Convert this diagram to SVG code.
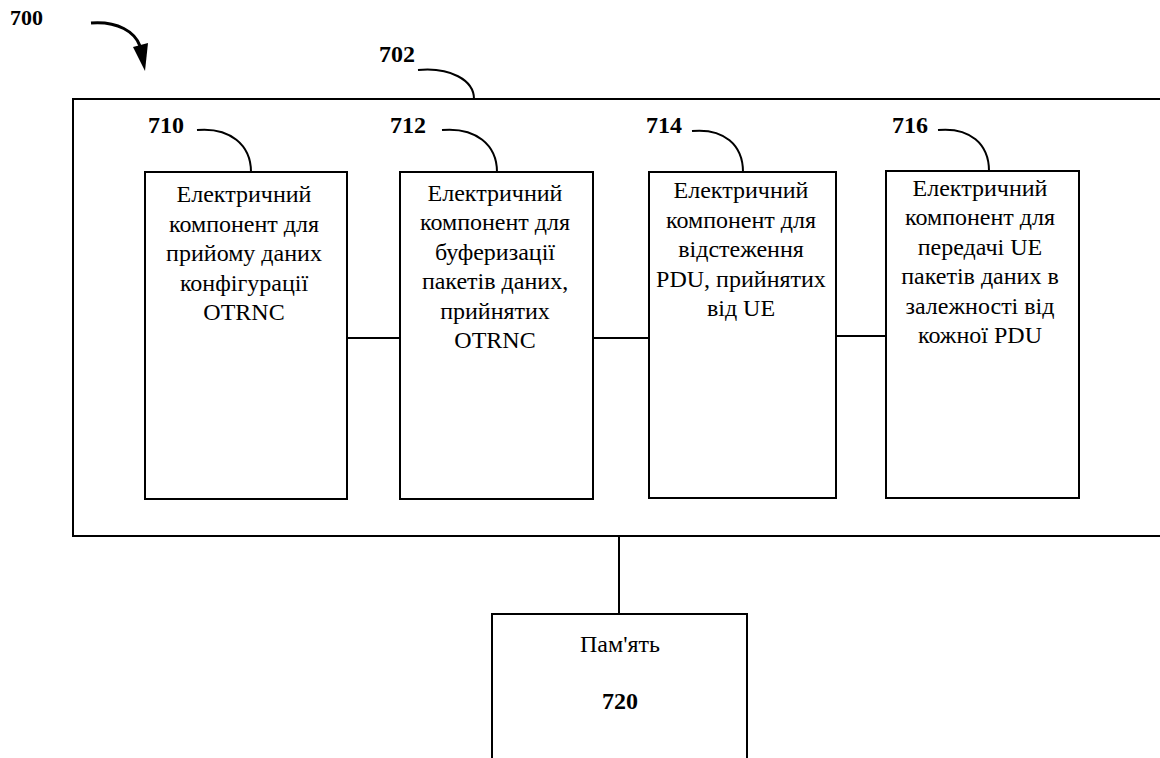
<svg xmlns="http://www.w3.org/2000/svg" width="1160" height="758" viewBox="0 0 1160 758">
<style>
.box{fill:#fff;stroke:#000;stroke-width:2}
.ln{fill:none;stroke:#000;stroke-width:2}
.lbl{font-family:"Liberation Serif",serif;font-weight:bold;font-size:24px;fill:#000}
.t{font-family:"Liberation Serif",serif;font-size:24px;fill:#000;text-anchor:middle}
</style>
<rect width="1160" height="758" fill="#fff"/>
<g id="label700">
<text class="lbl" x="10" y="25" style="font-size:22px">700</text>
<path d="M91,23 C118,21 135,32 140,46" fill="none" stroke="#000" stroke-width="3"/>
<polygon points="133,47 148,43 145,71" fill="#000"/>
</g>
<g id="n702">
<rect class="box" x="73" y="99" width="1100" height="437"/>
<text class="lbl" x="379" y="62">702</text>
<path class="ln" d="M418,70 C450,67 474,80 474,99"/>
</g>
<g id="connectors">
<line class="ln" x1="347" y1="338" x2="400" y2="338"/>
<line class="ln" x1="593" y1="338" x2="649" y2="338"/>
<line class="ln" x1="836" y1="336" x2="886" y2="336"/>
<line class="ln" x1="619" y1="536" x2="619" y2="614"/>
</g>
<g id="n710">
<rect class="box" x="145" y="172" width="202" height="327"/>
<text class="lbl" x="148" y="133">710</text>
<path class="ln" d="M197,130 C230,127 251,145 251,172"/>
<text class="t" x="244" y="202">Електричний</text>
<text class="t" x="244" y="231.5">компонент для</text>
<text class="t" x="244" y="261">прийому даних</text>
<text class="t" x="244" y="290.5">конфігурації</text>
<text class="t" x="244" y="320">OTRNC</text>
</g>
<g id="n712">
<rect class="box" x="400" y="172" width="193" height="327"/>
<text class="lbl" x="390" y="133">712</text>
<path class="ln" d="M442,130 C476,127 497,145 497,172"/>
<text class="t" x="495" y="200.5">Електричний</text>
<text class="t" x="495" y="230">компонент для</text>
<text class="t" x="495" y="259.5">буферизації</text>
<text class="t" x="495" y="289">пакетів даних,</text>
<text class="t" x="495" y="318.5">прийнятих</text>
<text class="t" x="495" y="348">OTRNC</text>
</g>
<g id="n714">
<rect class="box" x="649" y="172" width="187" height="326"/>
<text class="lbl" x="646" y="133">714</text>
<path class="ln" d="M692,131 C724,128 743,145 743,172"/>
<text class="t" x="741" y="198">Електричний</text>
<text class="t" x="741" y="227.5">компонент для</text>
<text class="t" x="741" y="257">відстеження</text>
<text class="t" x="741" y="286.5">PDU, прийнятих</text>
<text class="t" x="741" y="316">від UE</text>
</g>
<g id="n716">
<rect class="box" x="886" y="171" width="193" height="327"/>
<text class="lbl" x="892" y="133">716</text>
<path class="ln" d="M938,130 C970,127 989,144 989,171"/>
<text class="t" x="980" y="196">Електричний</text>
<text class="t" x="980" y="225.4">компонент для</text>
<text class="t" x="980" y="254.8">передачі UE</text>
<text class="t" x="980" y="284.2">пакетів даних в</text>
<text class="t" x="980" y="313.6">залежності від</text>
<text class="t" x="980" y="343">кожної PDU</text>
</g>
<g id="n720">
<rect class="box" x="492" y="614" width="255" height="170"/>
<text class="t" x="620" y="652">Пам'ять</text>
<text class="lbl" x="620" y="709" text-anchor="middle">720</text>
</g>
</svg>
